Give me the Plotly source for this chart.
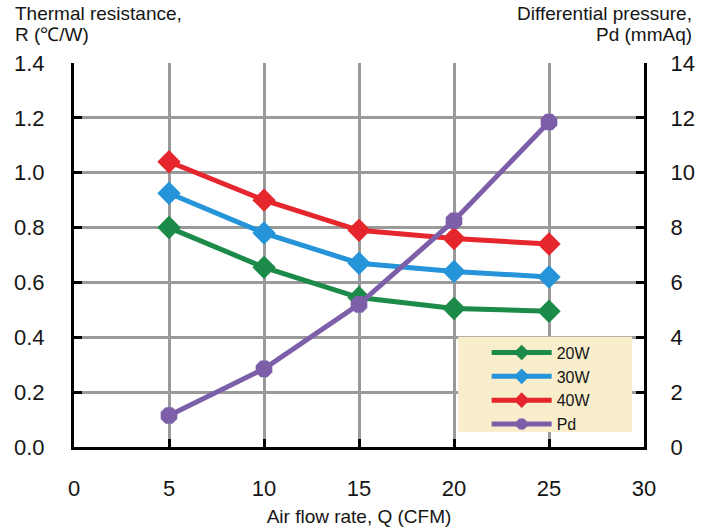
import plotly.graph_objects as go

flow = [5, 10, 15, 20, 25]
r_20w = [0.80, 0.655, 0.545, 0.505, 0.495]
r_30w = [0.925, 0.78, 0.67, 0.64, 0.62]
r_40w = [1.04, 0.90, 0.79, 0.76, 0.74]
pd_mmaq = [1.15, 2.85, 5.2, 8.25, 11.85]

x_ticks = [0, 5, 10, 15, 20, 25, 30]
r_ticks = [0.0, 0.2, 0.4, 0.6, 0.8, 1.0, 1.2, 1.4]
pd_ticks = [0, 2, 4, 6, 8, 10, 12, 14]

FONT = "Liberation Sans, Arial, sans-serif"
TXT = "#151515"

fig = go.Figure()

def add(name, y, color, symbol, axis="y", size=18):
    fig.add_trace(go.Scatter(
        x=flow, y=y, name=name, yaxis=axis, mode="lines+markers",
        line=dict(color=color, width=5),
        marker=dict(symbol=symbol, size=size, color=color, line=dict(width=0)),
    ))

add("20W", r_20w, "#1c8a48", "diamond")
add("30W", r_30w, "#2594d9", "diamond")
add("40W", r_40w, "#e6262d", "diamond")
add("Pd", pd_mmaq, "#7c5fa8", "octagon", axis="y2", size=18)

axis_common = dict(
    showline=True, linecolor="black", linewidth=3,
    ticks="inside", ticklen=8, tickwidth=3, tickcolor="black",
    tickfont=dict(size=22, family=FONT, color=TXT),
    zeroline=False, automargin=False,
)

def note(text, x, y, anchor):
    return dict(text=text, xref="paper", yref="paper", x=x, y=y,
                xanchor=anchor, yanchor="middle", align=anchor,
                showarrow=False, font=dict(size=19, family=FONT, color=TXT))

fig.update_layout(
    width=713, height=530,
    margin=dict(l=74, r=69, t=63, b=83),
    paper_bgcolor="white", plot_bgcolor="white",
    font=dict(family=FONT, color=TXT),
    showlegend=True,
    legend=dict(
        x=0.724, y=0.290, xanchor="left", yanchor="top",
        bgcolor="rgba(0,0,0,0)", borderwidth=0,
        font=dict(size=16, family=FONT, color=TXT),
        tracegroupgap=0, itemwidth=60, itemsizing="constant",
    ),
    shapes=[
        dict(type="rect", xref="paper", yref="paper",
             x0=0.674, x1=0.979, y0=0.039, y1=0.287,
             fillcolor="#f8eecc", line=dict(width=0), layer="above"),
    ],
    xaxis=dict(
        range=[0, 30], tickvals=x_ticks, ticktext=[str(v) for v in x_ticks],
        showgrid=True, gridcolor="#9a9a9a", gridwidth=3, mirror=False,
        ticklabelstandoff=20,
        title=dict(text="Air flow rate, Q (CFM)", font=dict(size=19, family=FONT, color=TXT), standoff=10),
        **axis_common,
    ),
    yaxis=dict(
        range=[0, 1.4], tickvals=r_ticks, ticktext=[f"{v:.1f}" for v in r_ticks],
        showgrid=True, gridcolor="#9a9a9a", gridwidth=3,
        ticklabelstandoff=22,
        **axis_common,
    ),
    yaxis2=dict(
        range=[0, 14], tickvals=pd_ticks, ticktext=[str(v) for v in pd_ticks],
        overlaying="y", side="right", showgrid=False,
        ticklabelstandoff=19,
        **axis_common,
    ),
    annotations=[
        note("Thermal resistance,", -0.107, 1.130, "left"),
        note("R (℃/W)", -0.107, 1.073, "left"),
        note("Differential pressure,", 1.087, 1.130, "right"),
        note("Pd (mmAq)", 1.087, 1.073, "right"),
    ],
)

fig.write_html(
    "out.html",
    config={"displayModeBar": False},
    post_script="document.body.style.margin='0';document.body.style.padding='0';",
)
